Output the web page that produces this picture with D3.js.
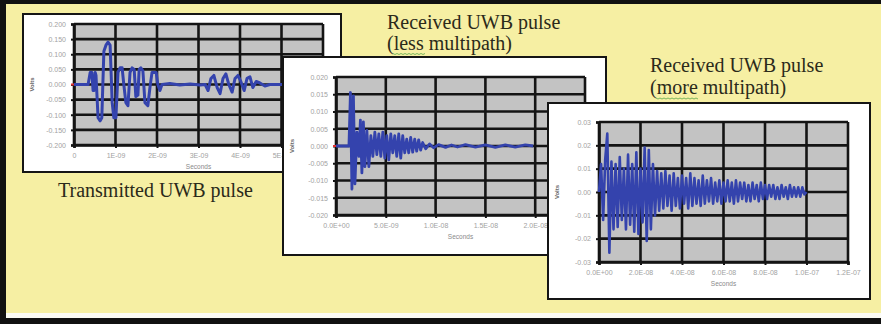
<!DOCTYPE html>
<html>
<head>
<meta charset="utf-8">
<script src="https://cdn.jsdelivr.net/npm/d3@7"></script>
<style>
  html, body { margin: 0; padding: 0; background: #fff; }
  svg { display: block; }
  .tick text { font-family: 'Liberation Sans', Arial, sans-serif; font-size: 7px; fill: #a2a2a2; }
  .caption { font-family: 'Liberation Serif', 'Times New Roman', serif; font-size: 20px; fill: #2b2a1a; }
  .axis-title { font-family: 'Liberation Sans', Arial, sans-serif; font-size: 6.5px; fill: #8a8a8a; }
  .volts { font-family: 'Liberation Sans', Arial, sans-serif; font-size: 6px; font-weight: bold; fill: #666; }
</style>
</head>
<body>
<svg id="chart" width="881" height="324"></svg>
<script>
// transmitted pulse: time in ns, amplitude in volts
const txTimes = [0, 0.34, 0.39, 0.43, 0.46, 0.48, 0.51, 0.53, 0.58, 0.63, 0.67, 0.72, 0.77, 0.82, 0.87, 0.92,
  0.96, 1.01, 1.06, 1.11, 1.16, 1.20, 1.25, 1.30, 1.35, 1.40, 1.45, 1.49, 1.54, 1.57, 1.61, 1.66, 1.71, 1.78,
  1.83, 1.88, 1.98, 2.02, 2.07, 2.12,
  2.31, 2.55, 2.80, 3.04, 3.16, 3.23, 3.30, 3.37, 3.45, 3.52, 3.59, 3.66, 3.73, 3.81, 3.88, 3.95, 4.02, 4.10,
  4.17, 4.24, 4.31, 4.39, 4.48, 4.60, 4.72, 5.04]
const txVolts = [0, 0, 0.04, 0.04, -0.02, -0.02, 0.04, 0.03, -0.11, -0.12, -0.11, 0.11, 0.13, 0.14, 0.13, -0.06,
  -0.11, -0.11, 0.04, 0.055, 0.055, 0, -0.06, -0.07, 0.04, 0.055, 0.05, -0.04, -0.035, 0.05, 0.055, 0.045, -0.06, -0.07,
  -0.01, 0.04, 0.04, 0, -0.02, 0,
  0.003, -0.002, 0.002, -0.002, 0, -0.02, 0.02, 0.03, -0.01, -0.03, 0.02, 0.035, 0, -0.025, 0.02, 0.03, 0.01, -0.02,
  0.02, 0.025, -0.01, 0.01, 0.005, -0.005, 0, 0]

// received pulse, less multipath: time in ns, volts
const lessTimes = [0, 1.3, 1.45, 1.6, 1.75, 1.9, 2.1, 2.3, 2.45, 2.6, 2.75, 2.9, 3.1, 3.3, 3.5, 3.7, 3.9, 4.1,
  4.3, 4.5, 4.7, 4.9, 5.1, 5.3, 5.5, 5.7, 5.9, 6.1, 6.3, 6.5, 6.7, 6.9, 7.1, 7.3, 7.5, 7.7, 7.9, 8.1, 8.3, 8.5,
  8.7, 9.0, 9.4, 9.8, 10.3, 11, 11.6, 12.2, 13, 14, 15, 16, 17, 18, 19, 19.8]
const lessVolts = [0, 0, 0.0155, -0.0125, 0.0145, -0.011, 0.004, -0.003, 0.0075, -0.0078, 0.007, -0.006, 0.0045,
  -0.006, 0.003, -0.003, 0.004, -0.0025, 0.0035, -0.003, 0.004, -0.0035, 0.003, -0.004, 0.0035, -0.002, 0.003,
  -0.003, 0.0035, -0.0035, 0.003, -0.002, 0.002, -0.002, 0.0025, -0.0018, 0.002, -0.0015, 0.0018, -0.0012,
  0.001, -0.0008, 0.0006, -0.0005, 0.0004, -0.0004, 0.0003, -0.0003, 0.0004, -0.0003, 0.0003, -0.0004, 0.0003,
  -0.0003, 0.0003, 0]

// received pulse, more multipath: one sample per ns, volts
const moreStep = 1
const moreVolts = [0, 0.012, -0.012, 0.014, 0.025, -0.026, 0.013, -0.016, 0.012, -0.015,
  0.015, -0.012, 0.010, -0.016, 0.016, -0.014, 0.012, -0.017, 0.017, -0.018,
  0.010, -0.013, 0.019, -0.021, 0.018, -0.016, 0.012, -0.010, 0.009, -0.008,
  0.008, -0.007, 0.009, -0.006, 0.007, -0.008, 0.008, -0.006, 0.006, -0.007,
  0.007, -0.005, 0.006, -0.007, 0.008, -0.006, 0.006, -0.005, 0.005, -0.006,
  0.007, -0.005, 0.005, -0.004, 0.006, -0.005, 0.004, -0.004, 0.005, -0.005,
  0.004, -0.004, 0.005, -0.004, 0.004, -0.005, 0.005, -0.004, 0.004, -0.003,
  0.004, -0.004, 0.003, -0.004, 0.004, -0.003, 0.003, -0.004, 0.004, -0.003,
  0.003, -0.003, 0.003, -0.002, 0.003, -0.003, 0.002, -0.003, 0.003, -0.002,
  0.002, -0.003, 0.003, -0.002, 0.002, -0.002, 0.002, -0.002, 0.002, -0.001, 0]

// axis ticks and labels
const txXTicks = [0, 1, 2, 3, 4, 5, 6]
const txXLabels = ['0', '1E-09', '2E-09', '3E-09', '4E-09', '5E-09', '6E-09']
const txYTicks = [0.2, 0.15, 0.1, 0.05, 0, -0.05, -0.1, -0.15, -0.2]
const txYLabels = ['0.200', '0.150', '0.100', '0.050', '0.000', '-0.050', '-0.100', '-0.150', '-0.200']

const lessXTicks = [0, 5, 10, 15, 20, 25]
const lessXLabels = ['0.0E+00', '5.0E-09', '1.0E-08', '1.5E-08', '2.0E-08', '2.5E-08']
const lessYTicks = [0.02, 0.015, 0.01, 0.005, 0, -0.005, -0.01, -0.015, -0.02]
const lessYLabels = ['0.020', '0.015', '0.010', '0.005', '0.000', '-0.005', '-0.010', '-0.015', '-0.020']

const moreXTicks = [0, 20, 40, 60, 80, 100, 120]
const moreXLabels = ['0.0E+00', '2.0E-08', '4.0E-08', '6.0E-08', '8.0E-08', '1.0E-07', '1.2E-07']
const moreYTicks = [0.03, 0.02, 0.01, 0, -0.01, -0.02, -0.03]
const moreYLabels = ['0.03', '0.02', '0.01', '0.00', '-0.01', '-0.02', '-0.03']

const svg = d3.select('#chart')

// page background with frame
svg.append('rect').attr('width', 881).attr('height', 324).attr('fill', '#f6efa3')
svg.append('rect').attr('x', 0).attr('y', 313).attr('width', 881).attr('height', 6).attr('fill', '#fbfbf4')
svg.append('rect').attr('x', 0).attr('y', 318).attr('width', 881).attr('height', 6).attr('fill', '#111')
svg.append('rect').attr('x', 0).attr('y', 0).attr('width', 881).attr('height', 4).attr('fill', '#111')
svg.append('rect').attr('x', 0).attr('y', 0).attr('width', 6).attr('height', 324).attr('fill', '#111')

const panel = p => {
  const g = svg.append('g')
  const { box, plot } = p

  g.append('rect')
    .attr('x', box.x).attr('y', box.y).attr('width', box.w).attr('height', box.h)
    .attr('fill', '#fff').attr('stroke', '#151515').attr('stroke-width', 2)

  const x = d3.scaleLinear().domain(p.xDomain).range([plot.x, plot.x + plot.w])
  const y = d3.scaleLinear().domain(p.yDomain).range([plot.y + plot.h, plot.y])

  g.append('rect')
    .attr('x', plot.x).attr('y', plot.y).attr('width', plot.w).attr('height', plot.h)
    .attr('fill', '#c3c3c3')

  // gridlines
  g.append('g')
    .attr('stroke', '#141414').attr('stroke-width', 2.6)
    .selectAll('line')
    .data(p.yTicks)
    .join('line')
    .attr('x1', plot.x).attr('x2', plot.x + plot.w)
    .attr('y1', d => y(d)).attr('y2', d => y(d))

  g.append('g')
    .attr('stroke', '#141414').attr('stroke-width', 2.6)
    .selectAll('line')
    .data(p.xTicks)
    .join('line')
    .attr('x1', d => x(d)).attr('x2', d => x(d))
    .attr('y1', plot.y).attr('y2', plot.y + plot.h)

  const xAxis = g.append('g')
    .attr('transform', `translate(0,${plot.y + plot.h})`)
    .call(d3.axisBottom(x).tickValues(p.xTicks).tickFormat((d, i) => p.xLabels[i]).tickSize(3).tickPadding(5))
  const yAxis = g.append('g')
    .attr('transform', `translate(${plot.x},0)`)
    .call(d3.axisLeft(y).tickValues(p.yTicks).tickFormat((d, i) => p.yLabels[i]).tickSize(3).tickPadding(5))
  ;[xAxis, yAxis].forEach(a => {
    a.select('.domain').attr('stroke', '#141414').attr('stroke-width', 2.6)
    a.selectAll('.tick line').attr('stroke', '#141414').attr('stroke-width', 2)
  })

  if (p.zeroMark) {
    g.append('line')
      .attr('x1', plot.x - 3).attr('x2', plot.x + 2)
      .attr('y1', y(0)).attr('y2', y(0))
      .attr('stroke', '#e03030').attr('stroke-width', 2)
  }

  const line = d3.line().x(d => x(d[0])).y(d => y(d[1]))
  g.append('path')
    .datum(d3.zip(p.times, p.volts))
    .attr('d', line)
    .attr('fill', 'none')
    .attr('stroke', '#3443ad')
    .attr('stroke-width', p.lineWidth)
    .attr('stroke-linejoin', 'round')

  g.append('text')
    .attr('class', 'axis-title')
    .attr('x', plot.x + plot.w / 2).attr('y', plot.y + plot.h + 24)
    .attr('text-anchor', 'middle')
    .text('Seconds')

  g.append('text')
    .attr('class', 'volts')
    .attr('transform', `translate(${box.x + 11},${plot.y + plot.h / 2}) rotate(-90)`)
    .attr('text-anchor', 'middle')
    .text('Volts')
}

panel({
  box: { x: 23, y: 14, w: 318, h: 158 },
  plot: { x: 74, y: 24, w: 249, h: 121 },
  xDomain: [0, 6], yDomain: [-0.2, 0.2],
  xTicks: txXTicks, xLabels: txXLabels, yTicks: txYTicks, yLabels: txYLabels,
  times: txTimes, volts: txVolts, lineWidth: 3, zeroMark: true
})

panel({
  box: { x: 283, y: 57, w: 323, h: 198 },
  plot: { x: 336, y: 77, w: 249, h: 138 },
  xDomain: [0, 25], yDomain: [-0.02, 0.02],
  xTicks: lessXTicks, xLabels: lessXLabels, yTicks: lessYTicks, yLabels: lessYLabels,
  times: lessTimes, volts: lessVolts, lineWidth: 2.8, zeroMark: true
})

panel({
  box: { x: 548, y: 103, w: 322, h: 196 },
  plot: { x: 599, y: 122, w: 249, h: 140 },
  xDomain: [0, 120], yDomain: [-0.03, 0.03],
  xTicks: moreXTicks, xLabels: moreXLabels, yTicks: moreYTicks, yLabels: moreYLabels,
  times: moreVolts.map((v, i) => i * moreStep), volts: moreVolts, lineWidth: 2.6, zeroMark: false
})

// captions
const caption = (x, y, text) =>
  svg.append('text').attr('class', 'caption').attr('x', x).attr('y', y).text(text)

caption(58, 196.5, 'Transmitted UWB pulse')
caption(387, 28.5, 'Received UWB pulse')
caption(387, 50, '(less multipath)')
caption(650, 71.5, 'Received UWB pulse')
caption(650, 94, '(more multipath)')

// spell-check squiggles under "less" and "more"
const squiggle = (x1, x2, y) => {
  const pts = d3.range(x1, x2 + 0.1, 2).map((px, i) => [px, y + (i % 2 ? 1 : 0)])
  svg.append('path').attr('d', d3.line()(pts)).attr('fill', 'none').attr('stroke', '#5aa64a').attr('stroke-width', 0.8)
}
squiggle(393, 425, 53.5)
squiggle(656, 698, 98)
</script>
</body>
</html>
